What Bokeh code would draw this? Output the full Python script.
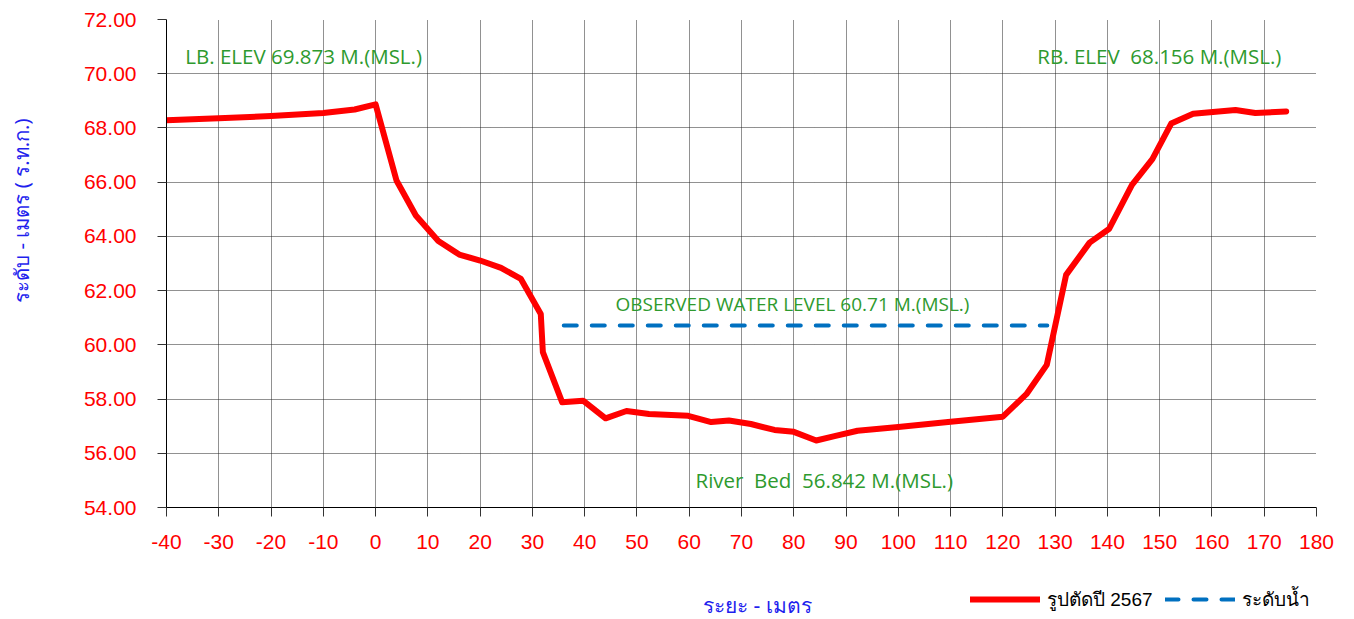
import math
from bokeh.plotting import figure
from bokeh.layouts import column, row
from bokeh.models import (Range1d, FixedTicker, NumeralTickFormatter, Label, Legend, LegendItem,
                          ColumnDataSource)
from bokeh.embed import file_html
from bokeh.resources import INLINE

# ---- data ----
dist = [-40, -30, -20, -10, -4, 0, 4, 7.7, 12, 16, 20, 24, 27.8, 31.6, 32, 35.7, 39.7, 44, 48, 52.3,
        59.8, 64.2, 67.6, 71.8, 76.3, 80, 84.3, 87.8, 92.2, 100, 110, 120, 124.5, 128.4, 132.1,
        136.6, 140.3, 144.7, 148.6, 152.2, 156.4, 164.5, 168.3, 174.2]
elev = [68.28, 68.36, 68.44, 68.55, 68.68, 68.87, 66.06, 64.77, 63.83, 63.33, 63.11, 62.84, 62.43,
        61.14, 59.73, 57.88, 57.94, 57.29, 57.56, 57.45, 57.38, 57.15, 57.21, 57.08, 56.86, 56.79,
        56.47, 56.63, 56.83, 56.97, 57.16, 57.35, 58.18, 59.26, 62.58, 63.77, 64.27, 65.90, 66.85,
        68.16, 68.52, 68.66, 68.55, 68.61]
wl_dist = [36, 128.5]
wl_elev = [60.71, 60.71]
x_ticks = list(range(-40, 181, 10))
y_ticks = [54, 56, 58, 60, 62, 64, 66, 68, 70, 72]
series_names = ["รูปตัดปี 2567", "ระดับน้ำ"]
NB = "\u00a0"
annotations = [
    ("LB. ELEV 69.873 M.(MSL.)", -36.4, 70.67, "20.5px"),
    ("RB. ELEV" + NB + " 68.156 M.(MSL.)", 126.6, 70.67, "20.5px"),
    ("OBSERVED WATER LEVEL 60.71 M.(MSL.)", 45.9, 61.52, "19px"),
    ("River" + NB + " Bed" + NB + " 56.842 M.(MSL.)", 61.2, 55.03, "20.5px"),
]
y_title = "ระดับ - เมตร ( ร.ท.ก.)"
x_title = "ระยะ - เมตร"

# ---- layout geometry (page pixels) ----
STRIP_W = 40                 # left strip holding the y-axis title
W = 1346 - STRIP_W
FRAME_L, FRAME_R = 166, 1316  # plot frame edges on the page
TOP, BOTTOM, MAIN_H = 19, 507, 580
FOOT_H = 39

src_profile = ColumnDataSource(dict(x=dist, y=elev))
src_wl = ColumnDataSource(dict(x=wl_dist, y=wl_elev))

p = figure(width=W, height=MAIN_H, output_backend="svg", toolbar_location=None,
           x_range=Range1d(-40, 180), y_range=Range1d(54, 72),
           min_border_left=FRAME_L - STRIP_W, min_border_right=1346 - FRAME_R,
           min_border_top=TOP, min_border_bottom=MAIN_H - BOTTOM)
p.outline_line_color = None

for ax in (p.xaxis[0], p.yaxis[0]):
    ax.axis_line_color = "black"
    ax.axis_line_width = 1
    ax.major_tick_line_color = "#333333"
    ax.major_tick_out = 9
    ax.major_tick_in = 0
    ax.minor_tick_line_color = None
    ax.major_label_text_color = "#ff0000"
    ax.major_label_text_font = "Liberation Sans"
    ax.major_label_text_font_size = "21px"

p.xaxis.ticker = FixedTicker(ticks=x_ticks)
p.yaxis.ticker = FixedTicker(ticks=y_ticks)
p.xaxis.formatter = NumeralTickFormatter(format="0")
p.yaxis.formatter = NumeralTickFormatter(format="0.00")
p.xaxis.major_label_standoff = 18
p.yaxis.major_label_standoff = 21

for g in (p.xgrid[0], p.ygrid[0]):
    g.grid_line_color = "#222222"
    g.grid_line_dash = "1 1"
    g.grid_line_width = 1

line_styles = [dict(line_color="#ff0000", line_width=6, line_cap="round"),
               dict(line_color="#0070c0", line_width=4, line_dash="13 15", line_cap="round")]

r1 = p.line("x", "y", source=src_profile, line_join="round", **line_styles[0])
r2 = p.line("x", "y", source=src_wl, **line_styles[1])

for txt, xx, yy, fs in annotations:
    p.add_layout(Label(x=xx, y=yy, text=txt, text_color="#2e9a2e", text_font="Open Sans",
                       text_font_size=fs, text_baseline="middle", text_align="left"))

# left strip: y-axis title (its ranges are page pixels)
pl = figure(width=STRIP_W, height=MAIN_H, output_backend="svg", toolbar_location=None,
            x_range=Range1d(0, STRIP_W), y_range=Range1d(BOTTOM, TOP),
            x_axis_type=None, y_axis_type=None,
            min_border_left=0, min_border_right=0, min_border_top=TOP,
            min_border_bottom=MAIN_H - BOTTOM)
pl.outline_line_color = None
pl.grid.visible = False
pl.add_layout(Label(x=20, y=210, text=y_title, angle=math.pi / 2, text_color="#1f1fee",
                    text_font="Noto Sans", text_font_size="20.4px",
                    text_align="center", text_baseline="middle"))

# bottom strip (frame aligned with the main plot): x-axis title and legend
p2 = figure(width=W, height=FOOT_H, output_backend="svg", toolbar_location=None,
            x_range=Range1d(FRAME_L, FRAME_R), y_range=Range1d(0, FOOT_H),
            x_axis_type=None, y_axis_type=None,
            min_border_left=FRAME_L - STRIP_W, min_border_right=1346 - FRAME_R,
            min_border_top=0, min_border_bottom=0)
p2.outline_line_color = None
p2.grid.visible = False
p2.add_layout(Label(x=757, y=15, text=x_title, text_color="#1f1fee", text_font="Noto Sans",
                    text_font_size="21px", text_align="center", text_baseline="middle"))
# legend glyphs share the main plot's sources (they fall outside this strip's ranges)
k1 = p2.line("x", "y", source=src_profile, **line_styles[0])
k2 = p2.line("x", "y", source=src_wl, **line_styles[1])
legend = Legend(items=[LegendItem(label=series_names[0], renderers=[k1]),
                       LegendItem(label=series_names[1], renderers=[k2])],
                orientation="horizontal", location=(970 - FRAME_L, 5),
                glyph_width=70, glyph_height=20, label_height=20, label_standoff=7, spacing=12,
                padding=0, margin=0, border_line_color=None, background_fill_alpha=0,
                label_text_font="Liberation Sans", label_text_font_size="19px",
                label_text_color="black", label_text_baseline="middle")
p2.add_layout(legend)

layout = row(pl, column(p, p2, spacing=0), spacing=0)
open("out.html", "w").write(file_html(layout, INLINE))
